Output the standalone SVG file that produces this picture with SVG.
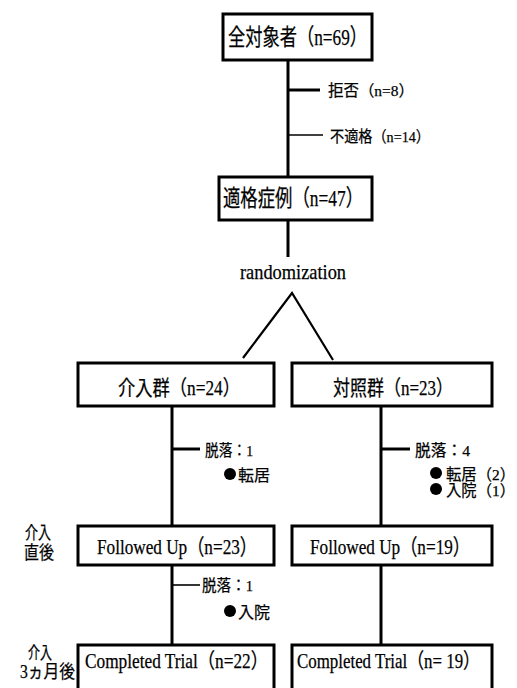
<svg xmlns="http://www.w3.org/2000/svg" width="517" height="688" viewBox="0 0 517 688">
<style>
text{font-family:"Liberation Serif","Noto Sans CJK JP",serif;fill:#000;stroke:#000;stroke-width:0.25}
.box{fill:#fff;stroke:#000;stroke-width:3}
.ln{stroke:#000;stroke-width:3;fill:none}
.thin{stroke:#000;stroke-width:1.6;fill:none}
.b{font-size:23px}
.m{font-size:21px}
.s{font-size:15.5px}
</style>
<rect width="517" height="688" fill="#fff"/>
<g id="connectors">
<line class="ln" x1="288" y1="60" x2="288" y2="177"/>
<line class="ln" x1="288" y1="90" x2="320" y2="90"/>
<line class="thin" x1="288" y1="135" x2="323" y2="135"/>
<line class="ln" x1="288" y1="220" x2="288" y2="257"/>
<polyline class="thin" points="243,358 292,293 333,360" style="stroke-width:2.2"/>
<line class="ln" x1="172" y1="406" x2="172" y2="526"/>
<line class="ln" x1="172" y1="449" x2="200" y2="449"/>
<line class="ln" x1="381" y1="406" x2="381" y2="526"/>
<line class="ln" x1="381" y1="449" x2="410" y2="449"/>
<line class="ln" x1="172" y1="565" x2="172" y2="645"/>
<line class="thin" x1="172" y1="585" x2="200" y2="585"/>
<line class="ln" x1="381" y1="565" x2="381" y2="645"/>
</g>
<g id="all">
<rect class="box" x="223" y="14" width="149" height="46"/>
<text class="b" x="228" y="45" textLength="139" lengthAdjust="spacingAndGlyphs">全対象者（n=69）</text>
</g>
<g id="refuse">
<text class="s" x="328" y="96" textLength="86" lengthAdjust="spacingAndGlyphs">拒否（n=8）</text>
</g>
<g id="ineligible">
<text class="s" x="330" y="142" textLength="100" lengthAdjust="spacingAndGlyphs">不適格（n=14）</text>
</g>
<g id="eligible">
<rect class="box" x="219" y="177" width="153" height="43"/>
<text class="b" x="223" y="206" textLength="140" lengthAdjust="spacingAndGlyphs">適格症例（n=47）</text>
</g>
<g id="randomization">
<text class="m" x="240" y="279" textLength="106" lengthAdjust="spacingAndGlyphs">randomization</text>
</g>
<g id="intervention">
<rect class="box" x="78" y="363" width="196" height="43"/>
<text class="m" x="118" y="395" textLength="122" lengthAdjust="spacingAndGlyphs">介入群（n=24）</text>
</g>
<g id="control">
<rect class="box" x="292" y="363" width="200" height="43"/>
<text class="m" x="333" y="395" textLength="120" lengthAdjust="spacingAndGlyphs">対照群（n=23）</text>
</g>
<g id="drop-left-1">
<text class="s" x="205" y="456" textLength="48" lengthAdjust="spacingAndGlyphs">脱落：1</text>
<circle cx="230" cy="474" r="6"/>
<text class="s" x="238" y="481" textLength="32" lengthAdjust="spacingAndGlyphs">転居</text>
</g>
<g id="drop-right-1">
<text class="s" x="415" y="456" textLength="55" lengthAdjust="spacingAndGlyphs">脱落：4</text>
<circle cx="436" cy="473" r="6"/>
<text class="s" x="446" y="480" textLength="69" lengthAdjust="spacingAndGlyphs">転居（2）</text>
<circle cx="436" cy="489" r="6"/>
<text class="s" x="446" y="496" textLength="69" lengthAdjust="spacingAndGlyphs">入院（1）</text>
</g>
<g id="label-post">
<text style="font-size:18px" x="25" y="539" textLength="26" lengthAdjust="spacingAndGlyphs">介入</text>
<text style="font-size:18px" x="24" y="559" textLength="30" lengthAdjust="spacingAndGlyphs">直後</text>
</g>
<g id="followed-left">
<rect class="box" x="78" y="526" width="196" height="39"/>
<text class="m" x="97" y="554" style="font-size:22px" textLength="160" lengthAdjust="spacingAndGlyphs">Followed Up（n=23）</text>
</g>
<g id="followed-right">
<rect class="box" x="292" y="526" width="200" height="39"/>
<text class="m" x="310" y="554" style="font-size:22px" textLength="160" lengthAdjust="spacingAndGlyphs">Followed Up（n=19）</text>
</g>
<g id="drop-left-2">
<text class="s" x="202" y="591" textLength="51" lengthAdjust="spacingAndGlyphs">脱落：1</text>
<circle cx="230" cy="611" r="6"/>
<text class="s" x="238" y="618" textLength="32" lengthAdjust="spacingAndGlyphs">入院</text>
</g>
<g id="label-3m">
<text style="font-size:17px" x="28" y="659" textLength="24" lengthAdjust="spacingAndGlyphs">介入</text>
<text style="font-size:18px" x="20" y="678" textLength="55" lengthAdjust="spacingAndGlyphs">3ヵ月後</text>
</g>
<g id="completed-left">
<rect class="box" x="78" y="645" width="196" height="46"/>
<text class="m" x="85" y="668" style="font-size:21px" textLength="183" lengthAdjust="spacingAndGlyphs">Completed Trial（n=22）</text>
</g>
<g id="completed-right">
<rect class="box" x="292" y="645" width="200" height="46"/>
<text class="m" x="297" y="668" style="font-size:21px" textLength="183" lengthAdjust="spacingAndGlyphs">Completed Trial（n= 19）</text>
</g>
</svg>
